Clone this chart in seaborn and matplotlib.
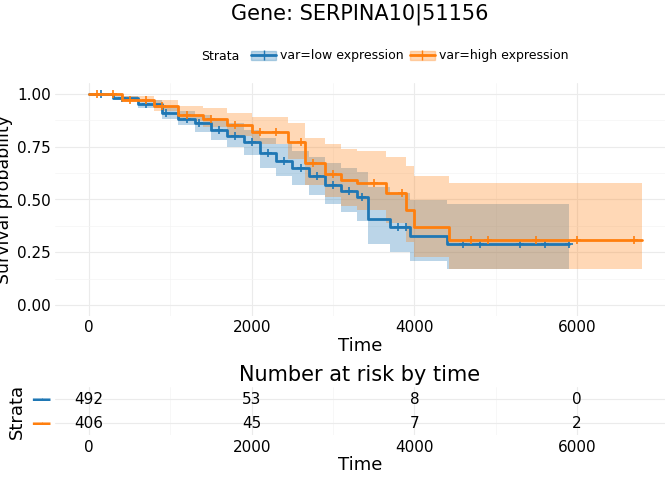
import matplotlib
matplotlib.use("Agg")
import matplotlib.pyplot as plt
import seaborn as sns
import numpy as np
from matplotlib.patches import Patch
from matplotlib.lines import Line2D

sns.set_theme(style="whitegrid")
plt.rcParams['font.family'] = ['DejaVu Sans']
plt.rcParams['text.color'] = 'black'
plt.rcParams['axes.labelcolor'] = 'black'
plt.rcParams['xtick.color'] = 'black'
plt.rcParams['ytick.color'] = 'black'

BLUE = "#1f77b4"; ORANGE = "#ff7f0e"

low_t = [0, 300, 600, 900, 1100, 1300, 1500, 1700, 1900, 2100, 2300, 2500, 2700, 2900, 3100, 3300, 3430, 3700, 3950, 4400, 5900]
low_s = [1.0, 0.98, 0.95, 0.91, 0.88, 0.86, 0.83, 0.80, 0.77, 0.72, 0.68, 0.65, 0.61, 0.57, 0.54, 0.51, 0.41, 0.37, 0.33, 0.29, 0.29]
low_lo = [1.0, 0.97, 0.93, 0.88, 0.85, 0.82, 0.78, 0.75, 0.71, 0.65, 0.61, 0.57, 0.52, 0.48, 0.44, 0.40, 0.29, 0.25, 0.21, 0.17, 0.17]
low_hi = [1.0, 0.99, 0.97, 0.94, 0.92, 0.90, 0.88, 0.86, 0.83, 0.79, 0.76, 0.73, 0.70, 0.67, 0.65, 0.63, 0.56, 0.53, 0.50, 0.48, 0.48]
low_cens = [150, 400, 700, 950, 1200, 1350, 1600, 1800, 2000, 2200, 2400, 2600, 2800, 3000, 3200, 3350, 3800, 3900, 4600, 4800, 5300, 5600, 5900]

high_t = [0, 400, 800, 1100, 1400, 1700, 2000, 2450, 2650, 2900, 3100, 3300, 3650, 3900, 4000, 4420, 6800]
high_s = [1.0, 0.97, 0.94, 0.90, 0.88, 0.85, 0.82, 0.77, 0.67, 0.62, 0.59, 0.58, 0.53, 0.45, 0.37, 0.31, 0.31]
high_lo = [1.0, 0.96, 0.92, 0.87, 0.84, 0.80, 0.76, 0.69, 0.57, 0.51, 0.47, 0.45, 0.39, 0.30, 0.23, 0.17, 0.17]
high_hi = [1.0, 0.99, 0.97, 0.94, 0.93, 0.91, 0.89, 0.86, 0.79, 0.76, 0.74, 0.73, 0.70, 0.66, 0.61, 0.58, 0.58]
high_cens = [100, 300, 500, 700, 900, 1200, 1500, 1800, 2100, 2300, 2600, 2750, 3000, 3500, 3850, 4700, 4900, 5500, 6000, 6700]

risk_times = [0, 2000, 4000, 6000]
risk_low = [492, 53, 8, 0]
risk_high = [406, 45, 7, 2]

fig = plt.figure(figsize=(6.72, 4.8), dpi=100)
W, H = 672, 480
def ax_at(l, t, r, b):
    return fig.add_axes([l / W, (H - b) / H, (r - l) / W, (b - t) / H])

ax = ax_at(55, 83, 665, 316)
def surv_at(ts, ss, x):
    i = np.searchsorted(ts, x, side="right") - 1
    return ss[i]
for ts, ss, lo, hi, cens, c in [(low_t, low_s, low_lo, low_hi, low_cens, BLUE),
                                 (high_t, high_s, high_lo, high_hi, high_cens, ORANGE)]:
    ax.fill_between(ts, lo, hi, step="post", color=c, alpha=0.3, lw=0)
    ax.step(ts, ss, where="post", color=c, lw=2)
    ax.plot(cens, [surv_at(ts, ss, x) for x in cens], "+", color=c, ms=6, mew=1.2)
ax.set_xlim(-418, 7080)
ax.set_ylim(-0.05, 1.05)
ax.set_xticks(risk_times)
ax.set_yticks([0, 0.25, 0.5, 0.75, 1.0])
ax.set_yticklabels(["0.00", "0.25", "0.50", "0.75", "1.00"])
ax.set_xticks([1000, 3000, 5000], minor=True)
ax.set_yticks([0.125, 0.375, 0.625, 0.875], minor=True)
ax.grid(True, which="major", color="#ebebeb", lw=0.8)
ax.grid(True, which="minor", color="#f4f4f4", lw=0.5)
for s in ax.spines.values(): s.set_visible(False)
ax.tick_params(labelsize=11, length=0, pad=3)
ax.set_xlabel("Time", fontsize=13, labelpad=1)
ax.set_ylabel("Survival probability", fontsize=12.5, labelpad=3)

handles = [(Patch(color=BLUE, alpha=0.3), Line2D([], [], color=BLUE, marker="+", lw=2, ms=7)),
           (Patch(color=ORANGE, alpha=0.3), Line2D([], [], color=ORANGE, marker="+", lw=2, ms=7))]
fig.legend(handles, ["var=low expression", "var=high expression"],
           loc="center left", bbox_to_anchor=(240 / W, (H - 56) / H), ncol=2, frameon=False,
           fontsize=9, handlelength=2, columnspacing=0.5, handletextpad=0.3)
fig.text(201 / W, (H - 56) / H, "Strata", ha="left", va="center", fontsize=9)
fig.text(0.535, (H - 14) / H, "Gene: SERPINA10|51156", ha="center", va="center", fontsize=15)

rt = ax_at(55, 387, 665, 435)
for i, (vals, y) in enumerate([(risk_low, 1), (risk_high, 2)]):
    for t, v in zip(risk_times, vals):
        rt.text(t, y, str(v), ha="center", va="center", fontsize=11)
rt.set_xlim(-418, 7080)
rt.set_ylim(2.5, 0.5)
rt.set_yticks([1, 2])
rt.set_yticklabels(["━━", "━━"], fontsize=11)
for lab, c in zip(rt.get_yticklabels(), [BLUE, ORANGE]):
    lab.set_color(c)
rt.set_xticks(risk_times)
rt.set_xticks([1000, 3000, 5000], minor=True)
rt.grid(True, which="major", color="#ebebeb", lw=0.8)
rt.grid(True, which="minor", color="#f4f4f4", lw=0.5)
for s in rt.spines.values(): s.set_visible(False)
rt.tick_params(labelsize=11, length=0)
rt.set_xlabel("Time", fontsize=13, labelpad=1)
rt.set_ylabel("Strata", fontsize=13)
rt.set_title("Number at risk by time", fontsize=15, pad=4)

fig.savefig("out.png", dpi=100)
